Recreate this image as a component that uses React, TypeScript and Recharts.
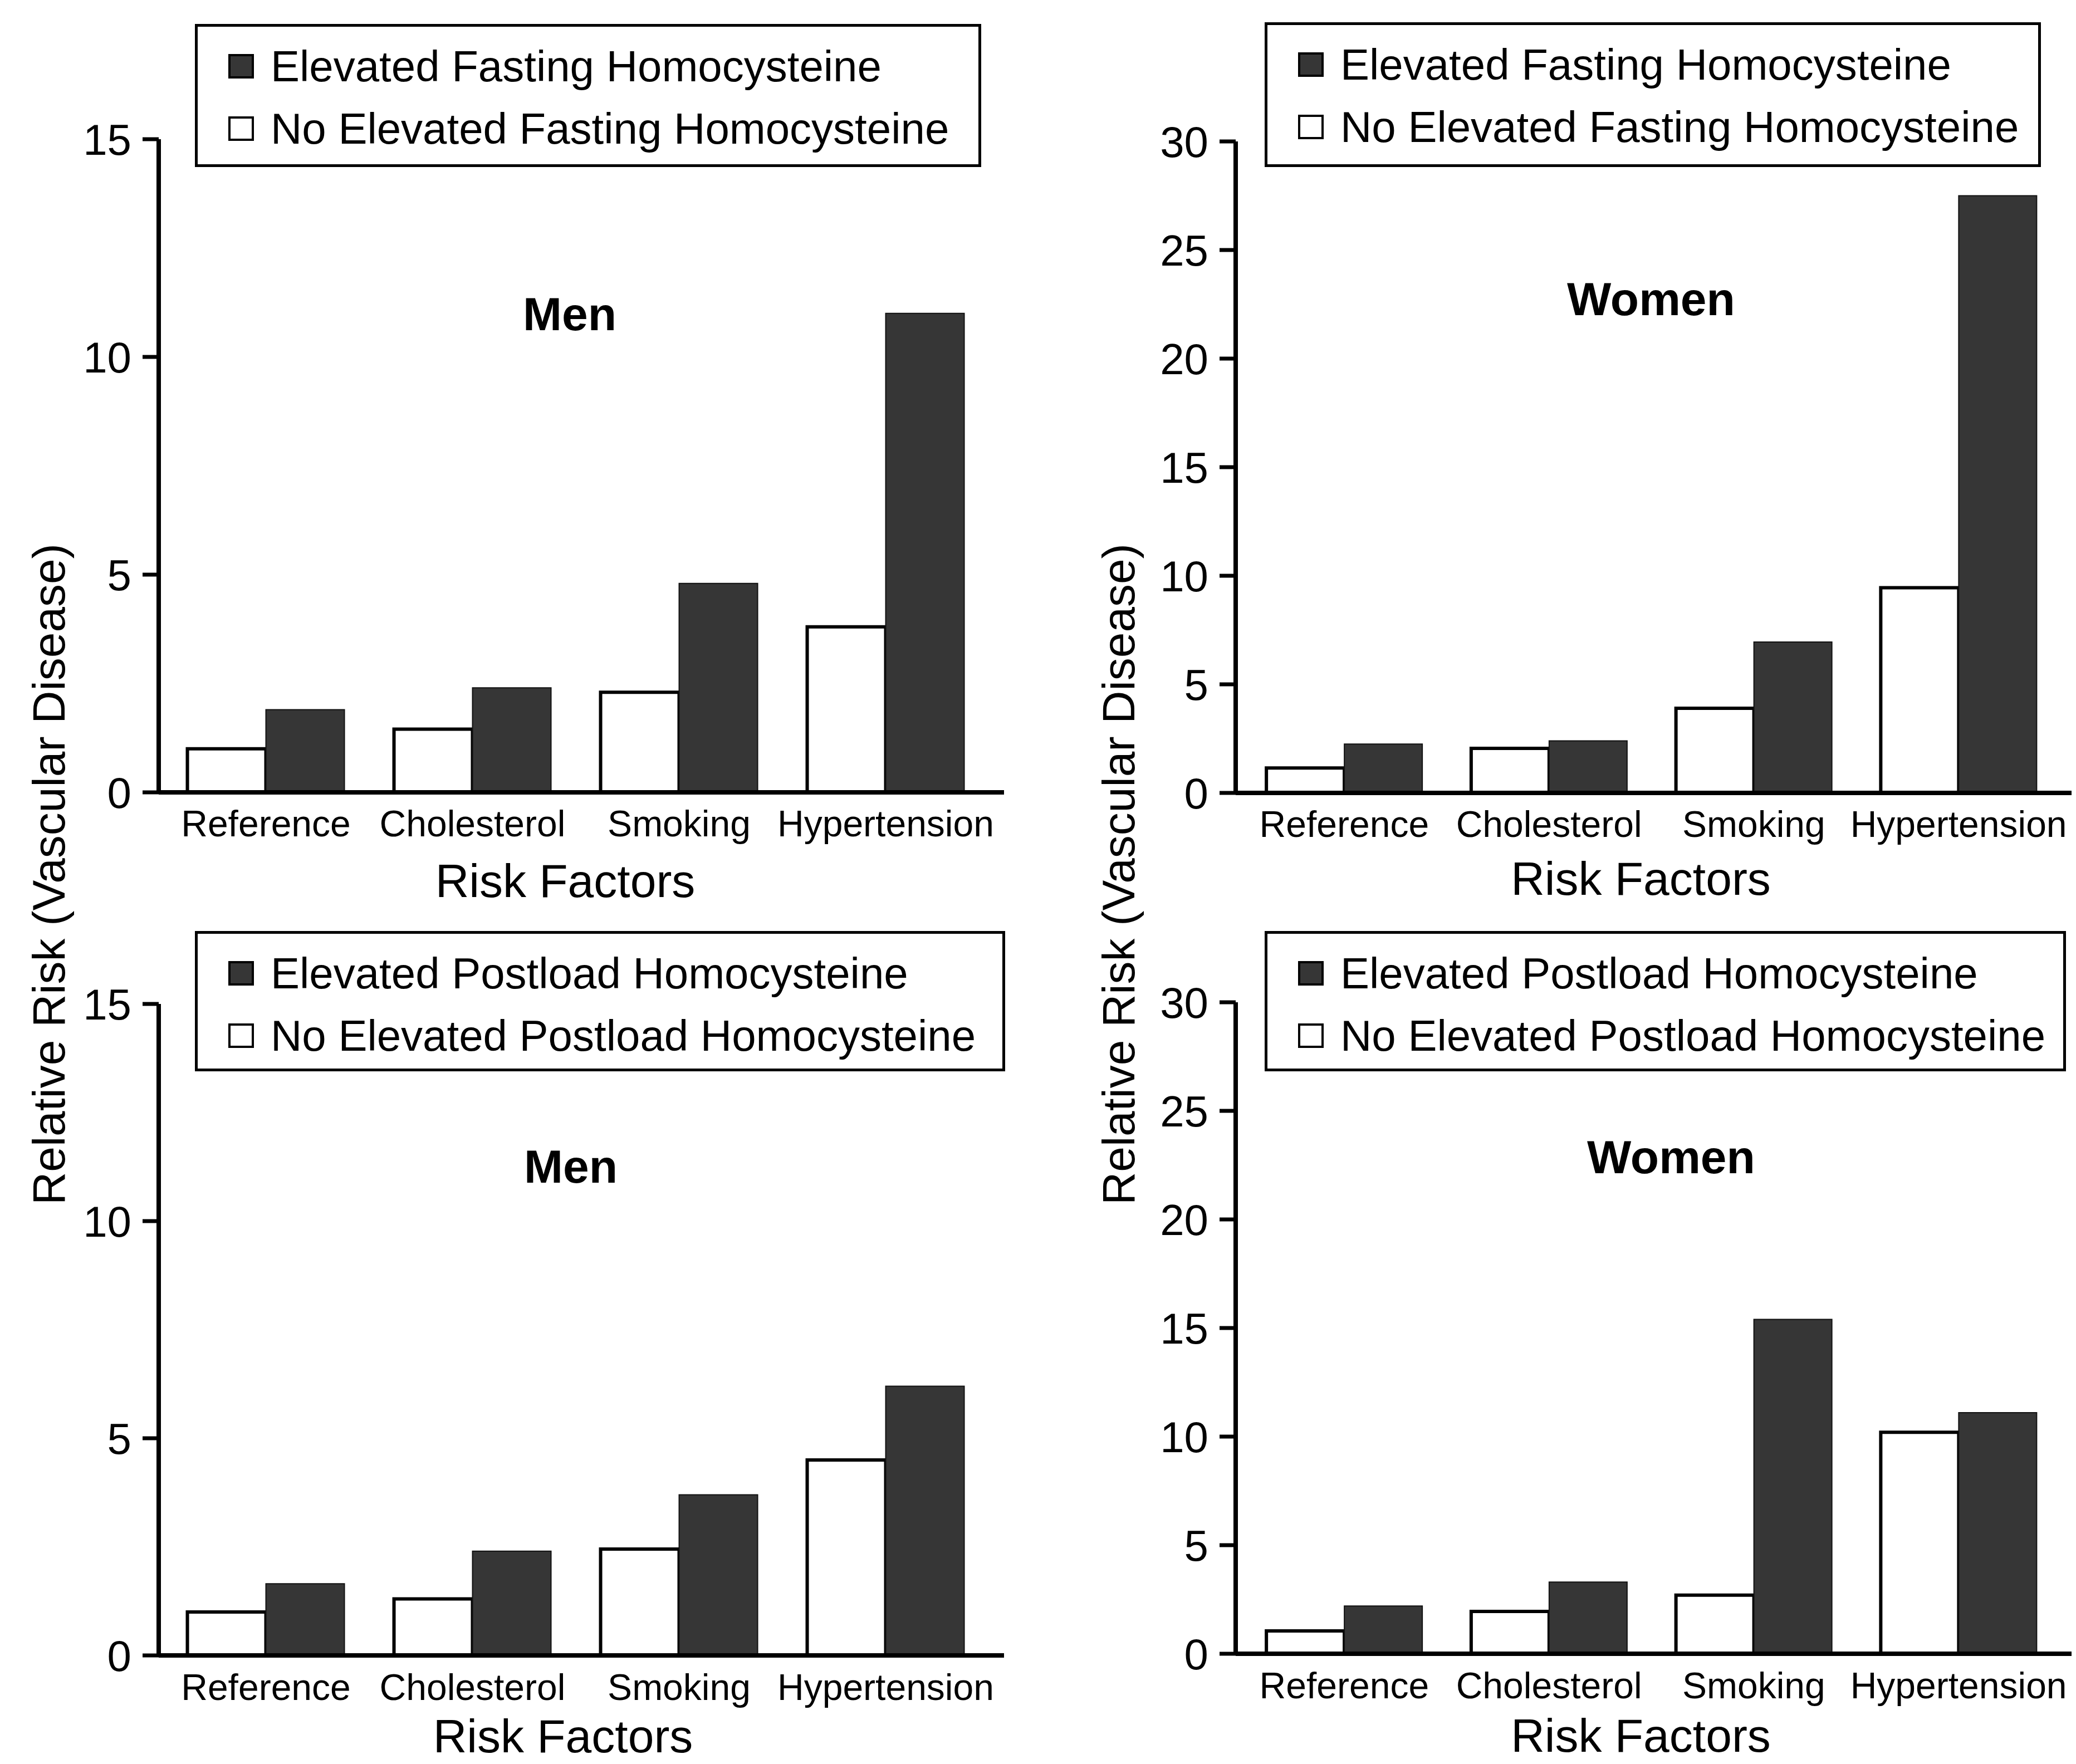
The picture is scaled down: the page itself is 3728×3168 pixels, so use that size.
import { BarChart, Bar, XAxis, YAxis, Legend } from 'recharts'

const FONT = '"Liberation Sans", Arial, Helvetica, sans-serif'
const DARK = '#363636'

const categories = ['Reference', 'Cholesterol', 'Smoking', 'Hypertension']

// fasting homocysteine
const menFastingNormal = [1.0, 1.45, 2.3, 3.8]
const menFastingElevated = [1.9, 2.4, 4.8, 11.0]
const womenFastingNormal = [1.15, 2.05, 3.9, 9.45]
const womenFastingElevated = [2.25, 2.4, 6.95, 27.5]

// postload homocysteine
const menPostloadNormal = [1.0, 1.3, 2.45, 4.5]
const menPostloadElevated = [1.65, 2.4, 3.7, 6.2]
const womenPostloadNormal = [1.05, 1.95, 2.7, 10.2]
const womenPostloadElevated = [2.2, 3.3, 15.4, 11.1]

const menTicks = [0, 5, 10, 15]
const womenTicks = [0, 5, 10, 15, 20, 25, 30]

type Row = { category: string; normal: number; elevated: number }

const rows = (normal: number[], elevated: number[]): Row[] =>
  categories.map((category, i) => ({ category, normal: normal[i], elevated: elevated[i] }))

interface Box {
  left: number
  top: number
  width: number
  height: number
}

interface PanelProps {
  left: number
  top: number
  width: number
  height: number
  data: Row[]
  ticks: number[]
  yAxisWidth: number
  marginTop: number
  marginRight: number
  xAxisHeight: number
  padLeft: number
  padRight: number
  tickMargin: number
  labelOffset: number
  labelDx: number
  legendBox: Box
  elevatedName: string
  normalName: string
}

function LegendBox({ payload, box }: { payload?: any[]; box: Box }) {
  const rank = (d: any) => (d.dataKey === 'elevated' ? 0 : 1)
  const items = [...(payload ?? [])].sort((a, b) => rank(a) - rank(b))
  return (
    <div
      style={{
        boxSizing: 'border-box',
        width: box.width,
        height: box.height,
        border: '5px solid #000',
        background: '#fff',
        paddingTop: 15,
        paddingLeft: 55,
        fontFamily: FONT,
        fontSize: 78,
        color: '#000',
      }}
    >
      {items.map((entry) => (
        <div key={entry.dataKey} style={{ display: 'flex', alignItems: 'center', height: 112, whiteSpace: 'nowrap' }}>
          <span
            style={{
              display: 'inline-block',
              boxSizing: 'border-box',
              width: 46,
              height: 44,
              marginRight: 30,
              background: entry.dataKey === 'elevated' ? DARK : '#fff',
              border: '4px solid #000',
            }}
          />
          {entry.value}
        </div>
      ))}
    </div>
  )
}

function Panel(p: PanelProps) {
  const max = p.ticks[p.ticks.length - 1]
  return (
    <div style={{ position: 'absolute', left: p.left, top: p.top }}>
      <BarChart
        width={p.width}
        height={p.height}
        data={p.data}
        margin={{ top: p.marginTop, right: p.marginRight, left: 0, bottom: 0 }}
        barCategoryGap="12%"
        barGap={0}
      >
        <XAxis
          dataKey="category"
          height={p.xAxisHeight}
          padding={{ left: p.padLeft, right: p.padRight }}
          axisLine={{ stroke: '#000', strokeWidth: 8 }}
          tickLine={false}
          tickSize={0}
          tickMargin={p.tickMargin}
          interval={0}
          tick={{ fontSize: 66, fill: '#000', fontFamily: FONT }}
          label={{
            value: 'Risk Factors',
            position: 'insideBottom',
            offset: p.labelOffset,
            dx: p.labelDx,
            fontSize: 84,
            fill: '#000',
            fontFamily: FONT,
          }}
        />
        <YAxis
          type="number"
          domain={[0, max]}
          ticks={p.ticks}
          interval={0}
          width={p.yAxisWidth}
          axisLine={{ stroke: '#000', strokeWidth: 8 }}
          tickLine={{ stroke: '#000', strokeWidth: 7 }}
          tickSize={29}
          tickMargin={20}
          tick={{ fontSize: 78, fill: '#000', fontFamily: FONT }}
        />
        <Legend
          layout="vertical"
          align="center"
          verticalAlign="middle"
          wrapperStyle={{ left: p.legendBox.left, top: p.legendBox.top, width: p.legendBox.width }}
          content={(props: any) => <LegendBox payload={props.payload} box={p.legendBox} />}
        />
        <Bar
          dataKey="normal"
          name={p.normalName}
          fill="#fff"
          stroke="#000"
          strokeWidth={6}
          isAnimationActive={false}
        />
        <Bar
          dataKey="elevated"
          name={p.elevatedName}
          fill={DARK}
          stroke="#111"
          strokeWidth={2}
          isAnimationActive={false}
        />
      </BarChart>
    </div>
  )
}

function Title({ text, x, y }: { text: string; x: number; y: number }) {
  return (
    <div
      style={{
        position: 'absolute',
        left: x,
        top: y,
        transform: 'translate(-50%, -50%)',
        fontFamily: FONT,
        fontWeight: 'bold',
        fontSize: 84,
        color: '#000',
        whiteSpace: 'nowrap',
      }}
    >
      {text}
    </div>
  )
}

function YTitle({ x, y }: { x: number; y: number }) {
  return (
    <div
      style={{
        position: 'absolute',
        left: x,
        top: y,
        transform: 'translate(-50%, -50%) rotate(-90deg)',
        fontFamily: FONT,
        fontSize: 82,
        color: '#000',
        whiteSpace: 'nowrap',
      }}
    >
      Relative Risk (Vascular Disease)
    </div>
  )
}

export default function App() {
  return (
    <div style={{ position: 'absolute', left: 0, top: 0, width: 3728, height: 3168, background: '#fff', overflow: 'hidden' }}>
      <Panel
        left={0}
        top={0}
        width={1864}
        height={1640}
        data={rows(menFastingNormal, menFastingElevated)}
        ticks={menTicks}
        yAxisWidth={285}
        marginTop={250}
        marginRight={61}
        xAxisHeight={217}
        padLeft={7}
        padRight={27}
        tickMargin={32}
        labelOffset={29}
        labelDx={-29}
        legendBox={{ left: 350, top: 43, width: 1412, height: 257 }}
        elevatedName="Elevated Fasting Homocysteine"
        normalName="No Elevated Fasting Homocysteine"
      />
      <Panel
        left={1864}
        top={0}
        width={1864}
        height={1640}
        data={rows(womenFastingNormal, womenFastingElevated)}
        ticks={womenTicks}
        yAxisWidth={355}
        marginTop={254}
        marginRight={8}
        xAxisHeight={216}
        padLeft={11}
        padRight={19}
        tickMargin={32}
        labelOffset={33}
        labelDx={-23}
        legendBox={{ left: 407, top: 40, width: 1394, height: 260 }}
        elevatedName="Elevated Fasting Homocysteine"
        normalName="No Elevated Fasting Homocysteine"
      />
      <Panel
        left={0}
        top={1640}
        width={1864}
        height={1528}
        data={rows(menPostloadNormal, menPostloadElevated)}
        ticks={menTicks}
        yAxisWidth={285}
        marginTop={163}
        marginRight={61}
        xAxisHeight={195}
        padLeft={7}
        padRight={27}
        tickMargin={33}
        labelOffset={21}
        labelDx={-33}
        legendBox={{ left: 350, top: 32, width: 1455, height: 252 }}
        elevatedName="Elevated Postload Homocysteine"
        normalName="No Elevated Postload Homocysteine"
      />
      <Panel
        left={1864}
        top={1640}
        width={1864}
        height={1528}
        data={rows(womenPostloadNormal, womenPostloadElevated)}
        ticks={womenTicks}
        yAxisWidth={355}
        marginTop={160}
        marginRight={8}
        xAxisHeight={198}
        padLeft={11}
        padRight={19}
        tickMargin={33}
        labelOffset={22}
        labelDx={-23}
        legendBox={{ left: 407, top: 32, width: 1439, height: 252 }}
        elevatedName="Elevated Postload Homocysteine"
        normalName="No Elevated Postload Homocysteine"
      />
      <Title text="Men" x={1023} y={564} />
      <Title text="Women" x={2965} y={537} />
      <Title text="Men" x={1025} y={2095} />
      <Title text="Women" x={3001} y={2078} />
      <YTitle x={88} y={1570} />
      <YTitle x={2009} y={1570} />
    </div>
  )
}
